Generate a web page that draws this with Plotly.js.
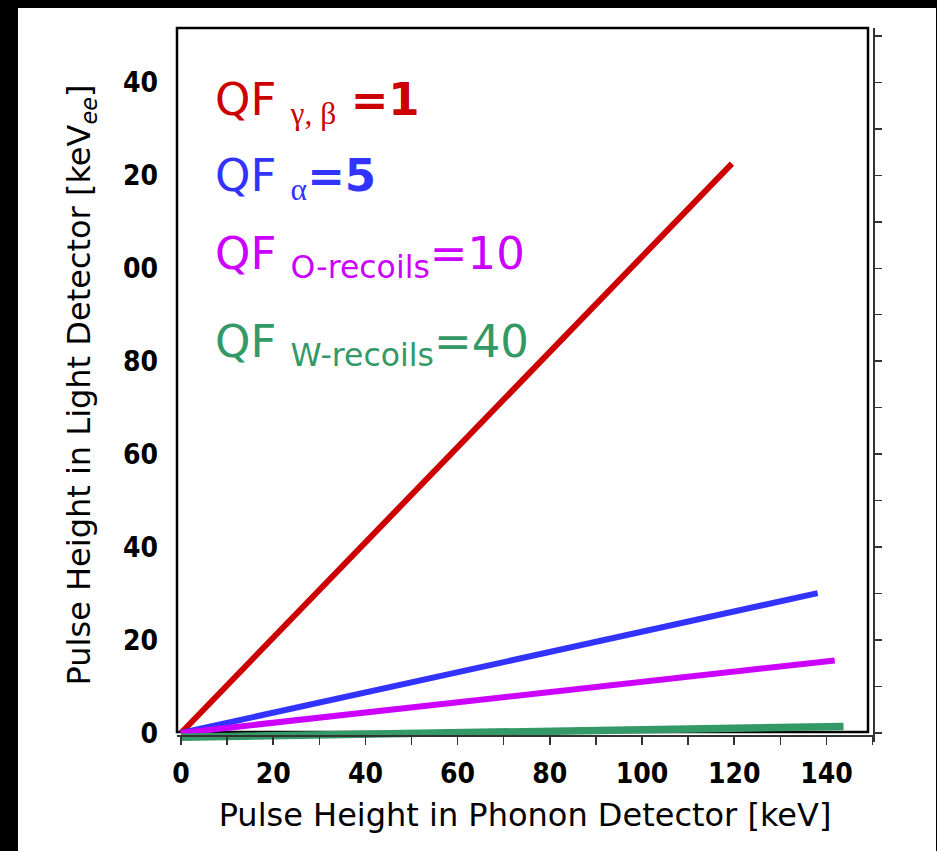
<!DOCTYPE html>
<html>
<head>
<meta charset="utf-8">
<script src="https://cdn.plot.ly/plotly-3.0.1.min.js"></script>
<style>
  html, body { margin:0; padding:0; background:#000; width:937px; height:851px; overflow:hidden; }
  #chart { position:absolute; left:18px; top:8px; width:918px; height:843px; background:#fff; }
</style>
</head>
<body>
<div id="chart"></div>
<script>
// ---- data ----
const gammaX = [0, 119.5];
const gammaY = [0, 122.5];
const alphaX = [0, 138.1];
const alphaY = [0, 30.1];
const oRecX = [0, 141.8];
const oRecY = [0, 15.6];
const wRecX = [0, 143.7];
const wRecY = [-0.9, 1.4];

const xTickVals = [0, 20, 40, 60, 80, 100, 120, 140];
const xTickText = ["0", "20", "40", "60", "80", "100", "120", "140"];
const yTickVals = [0, 20, 40, 60, 80, 100, 120, 140];
const yTickText = ["0", "20", "40", "60", "80", "00", "20", "40"];

const seriesLabels = [
  "QF <sub><span style=\"font-family:'Liberation Serif'\">γ, β</span></sub> <b>=1</b>",
  "QF <sub><span style=\"font-family:'Liberation Serif'\">α</span></sub><b>=5</b>",
  "QF <sub>O-recoils</sub>=10",
  "QF <sub>W-recoils</sub>=40"
];
const seriesColors = ["#CC0000", "#3333FF", "#CC00FF", "#339966"];

// ---- chart ----
const tickFont = {family: "'Liberation Sans Narrow', 'DejaVu Sans Condensed', sans-serif", size: 28, color: "#000", weight: "bold"};
const titleFont = {family: "'DejaVu Sans', sans-serif", size: 32, color: "#000"};

function line(x, y, color, w) {
  return {x: x, y: y, type: "scatter", mode: "lines", line: {color: color, width: w},
          showlegend: false, hoverinfo: "skip", xaxis: "x", yaxis: "y"};
}

const traces = [
  line(gammaX, gammaY, seriesColors[0], 6),
  line(alphaX, alphaY, seriesColors[1], 6),
  line(oRecX, oRecY, seriesColors[2], 6),
  line(wRecX, wRecY, seriesColors[3], 7.5),
  {x: [], y: [], type: "scatter", mode: "lines", xaxis: "x", yaxis: "y2", showlegend: false, hoverinfo: "skip"}
];

const yRange = [-1.94, 151.7];

const annY = [102, 178, 256, 344];
const annotations = seriesLabels.map((t, i) => ({
  text: t, xref: "paper", yref: "paper",
  x: (213 - 177) / 696, y: (742 - annY[i]) / 714,
  xanchor: "left", yanchor: "middle", showarrow: false,
  font: {family: "'DejaVu Sans', sans-serif", size: 45, color: seriesColors[i]}
}));

const layout = {
  width: 918, height: 843,
  margin: {l: 159, r: 63, t: 20, b: 109},
  paper_bgcolor: "#fff", plot_bgcolor: "#fff",
  showlegend: false,
  xaxis: {
    range: [-0.87, 150.1], anchor: "free", position: 0.0098,
    showline: true, linecolor: "#333", linewidth: 1.5,
    tickvals: xTickVals, ticktext: xTickText,
    ticks: "outside", ticklen: 8, tickwidth: 1.5, tickcolor: "#333",
    minor: {dtick: 10, tick0: 0, ticks: "outside", ticklen: 8, tickwidth: 1.5, tickcolor: "#333"},
    showgrid: false, zeroline: false,
    tickfont: tickFont, ticklabelstandoff: 5,
    title: {text: "Pulse Height in Phonon Detector [keV]", font: titleFont, standoff: 14}
  },
  yaxis: {
    range: yRange, showline: false, ticks: "", showgrid: false, zeroline: false,
    tickvals: yTickVals, ticktext: yTickText,
    tickfont: tickFont, ticklabelstandoff: 18,
    title: {text: "Pulse Height in Light Detector [keV<sub><i>ee</i></sub>]", font: titleFont, standoff: 22}
  },
  yaxis2: {
    range: yRange, overlaying: "y", side: "right", anchor: "x",
    showline: true, linecolor: "#333", linewidth: 1.5,
    ticks: "outside", ticklen: 7, tickwidth: 1.5, tickcolor: "#333",
    dtick: 10, tick0: 0, showticklabels: false,
    showgrid: false, zeroline: false
  },
  shapes: [
    {type: "rect", xref: "paper", yref: "paper",
     x0: 0, x1: (868 - 177) / 696, y0: (742 - 732) / 714, y1: 1,
     line: {color: "#000", width: 2.5}, fillcolor: "rgba(0,0,0,0)", layer: "below"}
  ],
  annotations: annotations
};

Plotly.newPlot("chart", traces, layout, {staticPlot: true, displayModeBar: false});
</script>
</body>
</html>
